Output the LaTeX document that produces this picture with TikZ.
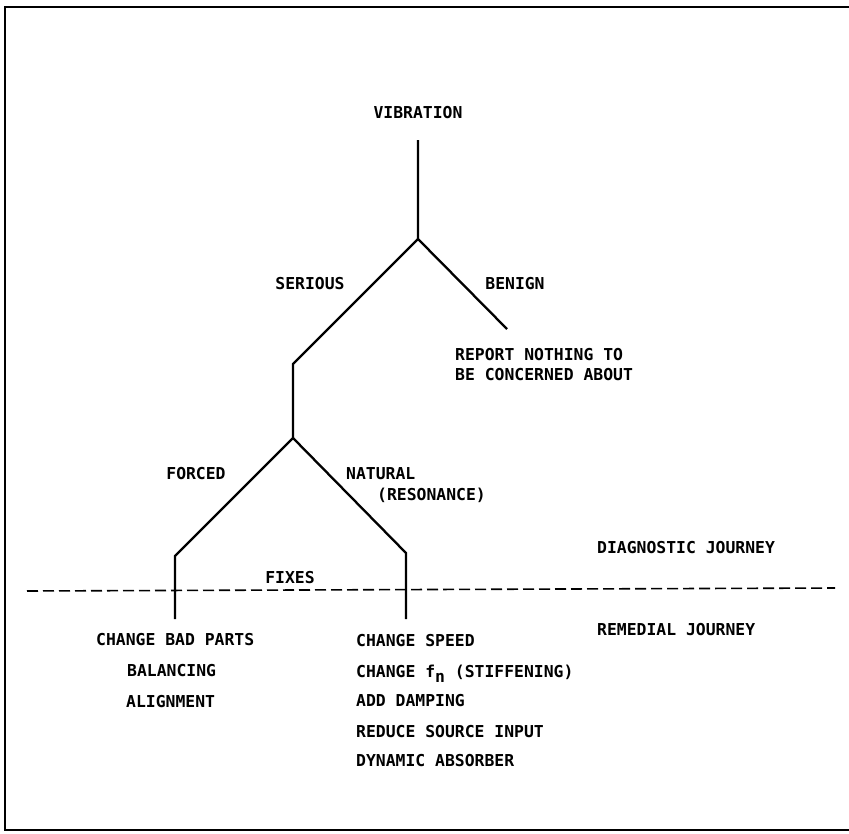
\documentclass[tikz,border=0pt]{standalone}
\usepackage{fontspec}
\newfontfamily\twfont{DejaVu Sans Mono}
\begin{document}
\begin{tikzpicture}[x=1pt,y=-1pt,
  lbl/.style={font=\twfont\bfseries\fontsize{16.4}{18}\selectfont, inner sep=0pt},
  branch/.style={line width=2.3pt, line join=miter},
  frameline/.style={line width=2.6pt},
  divider/.style={line width=1.6pt, dash pattern=on 11pt off 5pt}]
\useasboundingbox (0,0) rectangle (849,833);
% frame
\coordinate (ftr) at (849,7);
\coordinate (ftl) at (5,7);
\coordinate (fbl) at (5,830);
\coordinate (fbr) at (849,830);
\draw[frameline] (ftr) -- (ftl) -- (fbl) -- (fbr);
% tree coordinates
\coordinate (v0) at (418,140);
\coordinate (b1) at (418,239);
\coordinate (benEnd) at (507,329);
\coordinate (s1) at (293,364);
\coordinate (b2) at (293,438);
\coordinate (fk) at (175,556);
\coordinate (nk) at (406,553);
\coordinate (fe) at (175,619);
\coordinate (ne) at (406,619);
\draw[branch] (v0) -- (b1) -- (benEnd);
\draw[branch] (b1) -- (s1) -- (b2) -- (fk) -- (fe);
\draw[branch] (b2) -- (nk) -- (ne);
% divider
\coordinate (dl) at (27,591);
\coordinate (dr) at (835,588);
\draw[divider] (dl) -- (dr);
% labels
\node[lbl, anchor=base] (vib) at (418,118) {VIBRATION};
\node[lbl, anchor=base] (ser) at (310,289) {SERIOUS};
\node[lbl, anchor=base] (ben) at (515,289) {BENIGN};
\node[lbl, anchor=base west] (rep1) at (455,360) {REPORT NOTHING TO};
\node[lbl, anchor=base west] (rep2) at (455,380) {BE CONCERNED ABOUT};
\node[lbl, anchor=base] (forced) at (196,479) {FORCED};
\node[lbl, anchor=base west] (nat1) at (346,479) {NATURAL};
\node[lbl, anchor=base west] (nat2) at (377,500) {(RESONANCE)};
\node[lbl, anchor=base west] (diag) at (597,553) {DIAGNOSTIC JOURNEY};
\node[lbl, anchor=base] (fixes) at (290,583) {FIXES};
\node[lbl, anchor=base west] (rem) at (597,635) {REMEDIAL JOURNEY};
\node[lbl, anchor=base west] (f1) at (96,645) {CHANGE BAD PARTS};
\node[lbl, anchor=base west] (f2) at (127,676) {BALANCING};
\node[lbl, anchor=base west] (f3) at (126,707) {ALIGNMENT};
\node[lbl, anchor=base west] (n1) at (356,646) {CHANGE SPEED};
\node[lbl, anchor=base west] (n2) at (356,677) {CHANGE f\raisebox{-5pt}{n} (STIFFENING)};
\node[lbl, anchor=base west] (n3) at (356,706) {ADD DAMPING};
\node[lbl, anchor=base west] (n4) at (356,737) {REDUCE SOURCE INPUT};
\node[lbl, anchor=base west] (n5) at (356,766) {DYNAMIC ABSORBER};
\end{tikzpicture}
\end{document}
